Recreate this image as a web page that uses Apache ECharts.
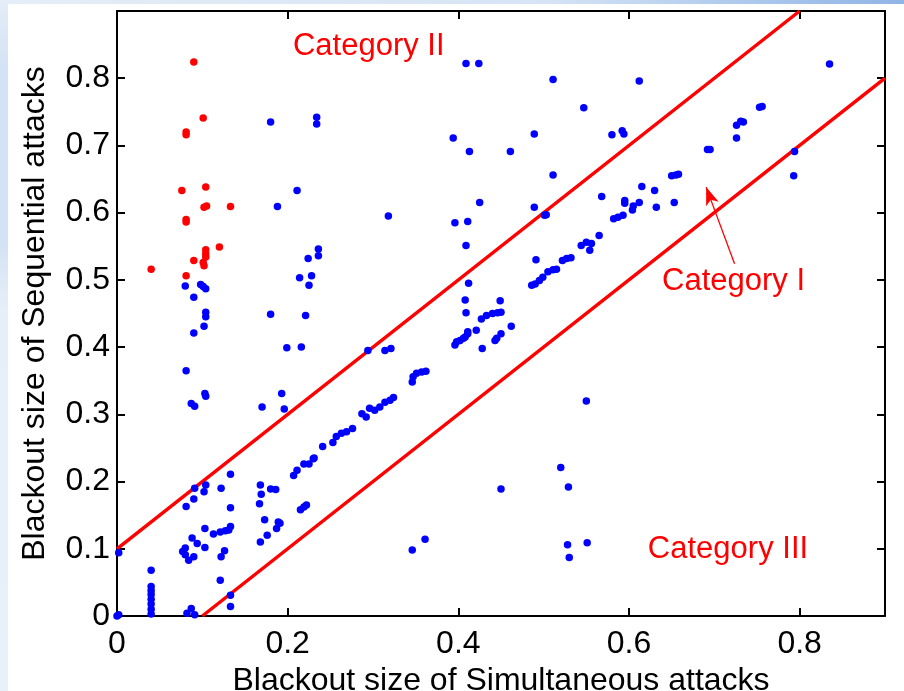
<!DOCTYPE html>
<html>
<head>
<meta charset="utf-8">
<title>Blackout size scatter</title>
<script src="https://cdn.jsdelivr.net/npm/echarts@6/dist/echarts.min.js"></script>
<style>
  html, body { margin: 0; padding: 0; background: #ffffff; }
  #chart { width: 904px; height: 691px; }
</style>
</head>
<body>
<div id="chart"></div>
<script>
// [simultaneous, sequential] blackout sizes
const blueSet = [
  [0, 0], [0.002, 0.002], [0.002, 0.094],
  [0.040, 0.068], [0.040, 0.044], [0.040, 0.038], [0.040, 0.032], [0.040, 0.025],
  [0.040, 0.018], [0.040, 0.010], [0.040, 0.003],
  [0.082, 0.004], [0.087, 0.011], [0.091, 0.002],
  [0.080, 0.491], [0.098, 0.493], [0.101, 0.490], [0.104, 0.487], [0.090, 0.474],
  [0.104, 0.452], [0.104, 0.445], [0.102, 0.431], [0.090, 0.421],
  [0.081, 0.365], [0.087, 0.316], [0.091, 0.312], [0.104, 0.327], [0.103, 0.331],
  [0.180, 0.735], [0.211, 0.633], [0.188, 0.609], [0.234, 0.742], [0.234, 0.732],
  [0.224, 0.532], [0.236, 0.546], [0.236, 0.536], [0.214, 0.503], [0.228, 0.506], [0.225, 0.492],
  [0.180, 0.449], [0.221, 0.447], [0.199, 0.399], [0.216, 0.400],
  [0.193, 0.331], [0.170, 0.311], [0.196, 0.308],
  [0.318, 0.595], [0.294, 0.395], [0.314, 0.395], [0.321, 0.398],
  [0.133, 0.211], [0.104, 0.195], [0.102, 0.185], [0.091, 0.190], [0.090, 0.174], [0.081, 0.163],
  [0.122, 0.190], [0.133, 0.161],
  [0.103, 0.130], [0.113, 0.122], [0.121, 0.125], [0.127, 0.127], [0.133, 0.133], [0.131, 0.128],
  [0.088, 0.116], [0.094, 0.108], [0.103, 0.102], [0.080, 0.101], [0.080, 0.091], [0.084, 0.083],
  [0.090, 0.088], [0.077, 0.096],
  [0.126, 0.097], [0.122, 0.088], [0.121, 0.053], [0.133, 0.031], [0.133, 0.014],
  [0.168, 0.195], [0.169, 0.181], [0.167, 0.167], [0.180, 0.189], [0.186, 0.188], [0.173, 0.143],
  [0.168, 0.110], [0.176, 0.120], [0.187, 0.130], [0.191, 0.138], [0.189, 0.140],
  [0.207, 0.209], [0.211, 0.217], [0.219, 0.226], [0.225, 0.226], [0.230, 0.234],
  [0.215, 0.158], [0.222, 0.165], [0.219, 0.162],
  [0.231, 0.235], [0.241, 0.252], [0.253, 0.258], [0.257, 0.267], [0.263, 0.272], [0.269, 0.274],
  [0.276, 0.279],
  [0.287, 0.301], [0.292, 0.296], [0.296, 0.309], [0.302, 0.306], [0.308, 0.311], [0.314, 0.318],
  [0.320, 0.321], [0.324, 0.325],
  [0.346, 0.348], [0.347, 0.356], [0.351, 0.361], [0.357, 0.363], [0.362, 0.364],
  [0.346, 0.098], [0.361, 0.114],
  [0.409, 0.822], [0.424, 0.822], [0.394, 0.711], [0.413, 0.691], [0.425, 0.615], [0.396, 0.585],
  [0.411, 0.587], [0.409, 0.551], [0.412, 0.495], [0.408, 0.470], [0.409, 0.451], [0.462, 0.431],
  [0.449, 0.469], [0.428, 0.398],
  [0.396, 0.403], [0.398, 0.408], [0.402, 0.410], [0.406, 0.413], [0.408, 0.415], [0.411, 0.420],
  [0.411, 0.423], [0.421, 0.425], [0.427, 0.442], [0.433, 0.447], [0.440, 0.450], [0.446, 0.451],
  [0.450, 0.452], [0.443, 0.410], [0.445, 0.413], [0.450, 0.420],
  [0.450, 0.189],
  [0.511, 0.798], [0.547, 0.756], [0.489, 0.717], [0.461, 0.691], [0.511, 0.656], [0.489, 0.608],
  [0.503, 0.597], [0.501, 0.596], [0.491, 0.530],
  [0.486, 0.492], [0.490, 0.494], [0.495, 0.499], [0.499, 0.504], [0.505, 0.512], [0.511, 0.515],
  [0.515, 0.516], [0.522, 0.529], [0.527, 0.532], [0.532, 0.533], [0.544, 0.551], [0.550, 0.556],
  [0.556, 0.554], [0.554, 0.544], [0.565, 0.566],
  [0.612, 0.796], [0.580, 0.716], [0.592, 0.722], [0.594, 0.717], [0.568, 0.624], [0.582, 0.591],
  [0.587, 0.593], [0.593, 0.596], [0.595, 0.618], [0.595, 0.614], [0.612, 0.615], [0.605, 0.610],
  [0.604, 0.604], [0.632, 0.608], [0.615, 0.639], [0.630, 0.633], [0.653, 0.615], [0.650, 0.655],
  [0.655, 0.656], [0.658, 0.657],
  [0.550, 0.320], [0.520, 0.221], [0.529, 0.192], [0.528, 0.106], [0.551, 0.109], [0.530, 0.087],
  [0.835, 0.821], [0.753, 0.757], [0.756, 0.758], [0.731, 0.736], [0.734, 0.735], [0.726, 0.730],
  [0.726, 0.711], [0.692, 0.694], [0.695, 0.694], [0.794, 0.691], [0.793, 0.655]
];

// Category II points (red)
const redSet = [
  [0.090, 0.824], [0.101, 0.741], [0.081, 0.720], [0.081, 0.716], [0.076, 0.633], [0.104, 0.638],
  [0.102, 0.608], [0.105, 0.610], [0.133, 0.609], [0.081, 0.590], [0.081, 0.586], [0.120, 0.549],
  [0.104, 0.545], [0.104, 0.539], [0.104, 0.534], [0.090, 0.529], [0.101, 0.526], [0.102, 0.521],
  [0.040, 0.516], [0.081, 0.506]
];

// boundary lines y = x + 0.1 and y = x - 0.1
const upperBound = [[0, 0.1], [0.8, 0.9]];
const lowerBound = [[0.1, 0], [0.9, 0.8]];

// annotation texts and where they sit (data coords)
const notes = [
  { name: 'Category II', value: [0.295, 0.848] },
  { name: 'Category I', value: [0.7225, 0.497] },
  { name: 'Category III', value: [0.716, 0.099] }
];
const arrowFrom = [0.7237, 0.524];
const arrowTo = [0.6904, 0.638];

const FONT = '"Liberation Sans", Arial, Helvetica, sans-serif';

const chart = echarts.init(document.getElementById('chart'));

const axisCommon = {
  type: 'value',
  min: 0,
  max: 0.9,
  splitLine: { show: false },
  axisLine: { onZero: false, lineStyle: { color: '#000', width: 2 } },
  axisTick: { inside: true, length: 8, lineStyle: { color: '#000', width: 2 } }
};

chart.setOption({
  animation: false,
  backgroundColor: '#ffffff',
  graphic: [
    {
      type: 'rect', left: 0, top: 0, z: -10,
      shape: { width: 8, height: 691 },
      style: {
        fill: new echarts.graphic.LinearGradient(0, 0, 0, 1, [
          { offset: 0, color: '#e4edf8' },
          { offset: 0.1, color: '#d3e2f4' },
          { offset: 0.35, color: '#d3e2f4' },
          { offset: 0.45, color: '#e6eff9' },
          { offset: 1, color: '#e8f0fa' }
        ])
      }
    },
    {
      type: 'rect', left: 0, top: 0, z: -10,
      shape: { width: 904, height: 4 },
      style: {
        fill: new echarts.graphic.LinearGradient(0, 0, 1, 0, [
          { offset: 0, color: '#e4edf8' },
          { offset: 0.6, color: '#d6e4f5' },
          { offset: 1, color: '#8fb4e6' }
        ])
      }
    }
  ],
  grid: { left: 117, right: 19, top: 11, bottom: 75, containLabel: false, outerBoundsMode: 'none' },
  xAxis: [
    Object.assign({}, axisCommon, {
      position: 'bottom',
      interval: 0.2,
      name: 'Blackout size of Simultaneous attacks',
      nameLocation: 'middle',
      nameGap: 38,
      nameTextStyle: { fontFamily: FONT, fontSize: 32, color: '#000' },
      axisLabel: { fontFamily: FONT, fontSize: 32, color: '#000', margin: 12, showMaxLabel: false }
    }),
    Object.assign({}, axisCommon, {
      position: 'top',
      interval: 0.2,
      axisLabel: { show: false }
    })
  ],
  yAxis: [
    Object.assign({}, axisCommon, {
      position: 'left',
      interval: 0.1,
      name: 'Blackout size of Sequential attacks',
      nameLocation: 'middle',
      nameGap: 66,
      nameTextStyle: { fontFamily: FONT, fontSize: 32, color: '#000' },
      axisLabel: { fontFamily: FONT, fontSize: 32, color: '#000', margin: 7, showMaxLabel: false }
    }),
    Object.assign({}, axisCommon, {
      position: 'right',
      interval: 0.1,
      axisLabel: { show: false }
    })
  ],
  series: [
    {
      type: 'scatter',
      data: blueSet,
      symbolSize: 7.5,
      itemStyle: { color: '#0000ff', opacity: 1 },
      z: 3
    },
    {
      type: 'scatter',
      data: redSet,
      symbolSize: 7.5,
      itemStyle: { color: '#ff0000', opacity: 1 },
      z: 3
    },
    {
      type: 'line',
      data: upperBound,
      symbol: 'none',
      lineStyle: { color: '#ff0000', width: 3.5 },
      z: 2
    },
    {
      type: 'line',
      data: lowerBound,
      symbol: 'none',
      lineStyle: { color: '#ff0000', width: 3.5 },
      z: 2
    },
    {
      type: 'scatter',
      data: notes,
      symbolSize: 0,
      silent: true,
      itemStyle: { opacity: 1 },
      label: {
        show: true,
        position: 'inside',
        formatter: '{b}',
        fontFamily: FONT,
        fontSize: 31,
        color: '#ff0000',
        opacity: 1
      },
      markLine: {
        silent: true,
        symbol: ['none', 'arrow'],
        symbolSize: [10, 18],
        label: { show: false },
        lineStyle: { color: '#ff0000', width: 1.3, type: 'solid', opacity: 1 },
        data: [[{ coord: arrowFrom }, { coord: arrowTo }]]
      },
      z: 4
    }
  ]
});
</script>
</body>
</html>
